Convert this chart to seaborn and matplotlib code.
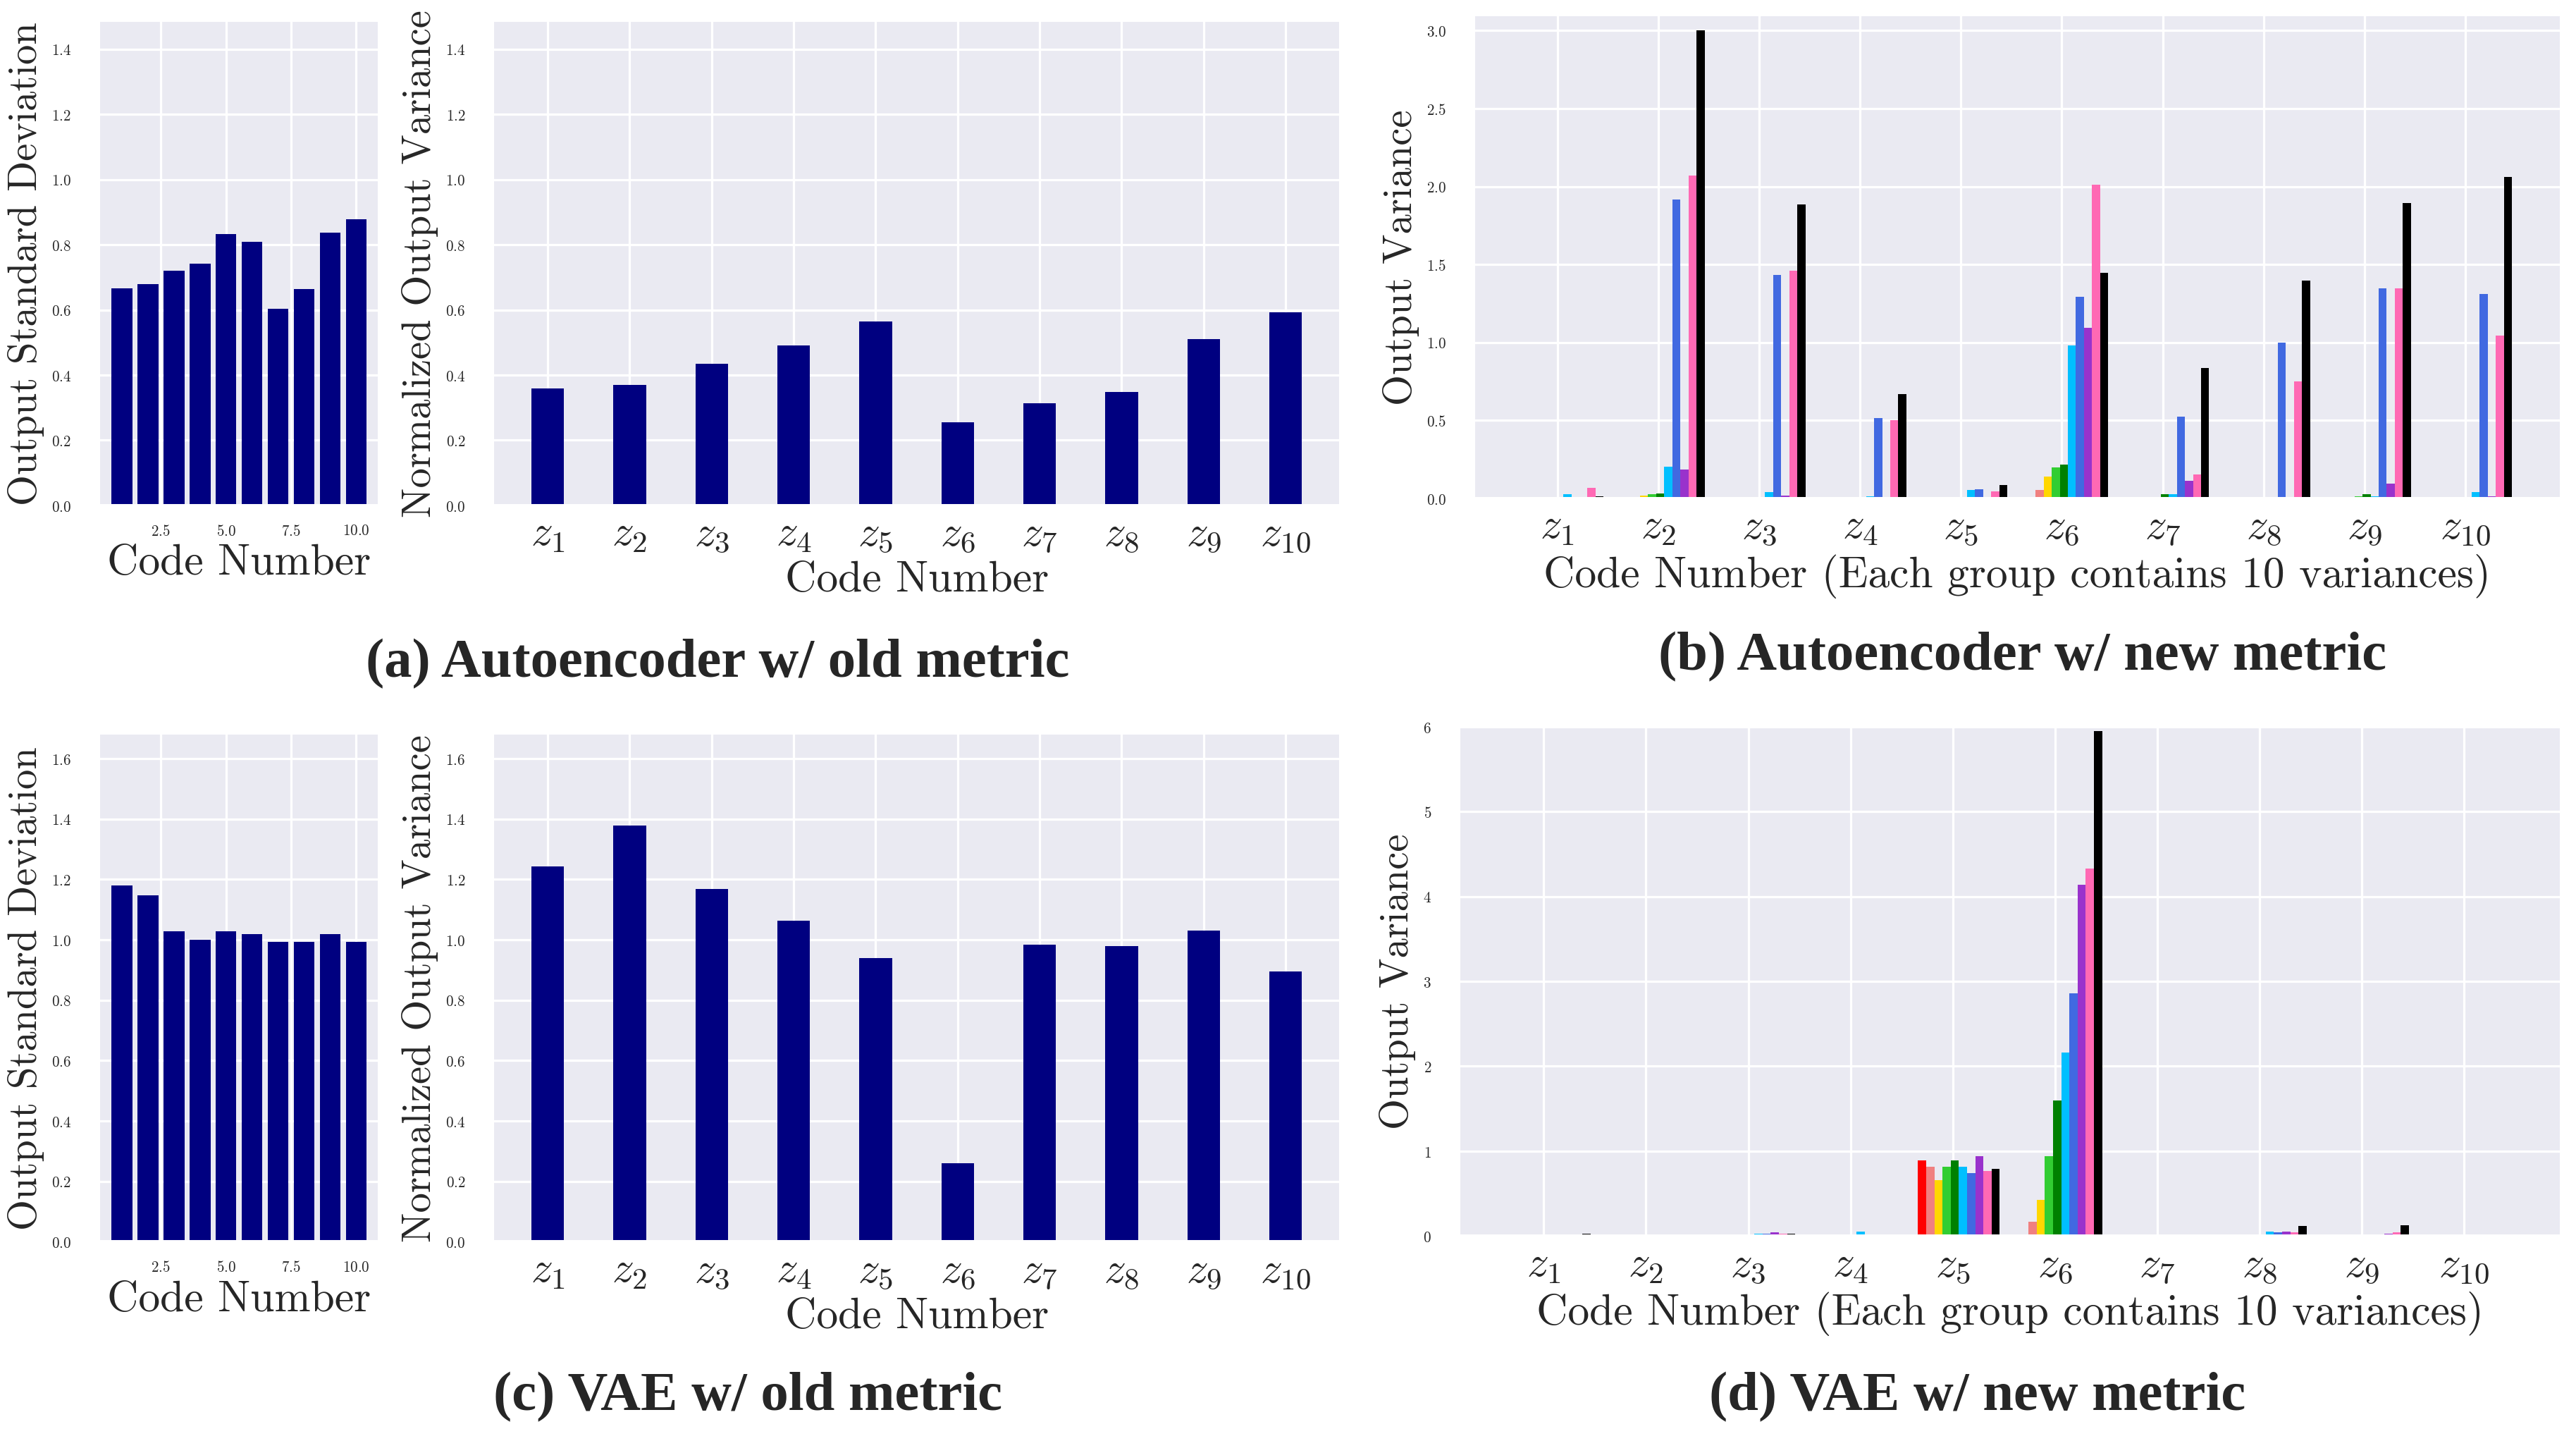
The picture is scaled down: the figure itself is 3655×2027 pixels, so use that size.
import numpy as np
import pandas as pd
import matplotlib
matplotlib.use("Agg")
import matplotlib.pyplot as plt
import seaborn as sns

# values
codes = list(range(1, 11))
code_labels = [r"$z_{%d}$" % i for i in codes]

ae_old_std = [0.666, 0.678, 0.721, 0.741, 0.833, 0.809, 0.604, 0.663, 0.836, 0.879]
ae_old_var = [0.358, 0.369, 0.435, 0.490, 0.564, 0.256, 0.314, 0.349, 0.511, 0.593]
vae_old_std = [1.180, 1.146, 1.029, 1.001, 1.028, 1.018, 0.992, 0.992, 1.018, 0.992]
vae_old_var = [1.243, 1.379, 1.168, 1.063, 0.940, 0.260, 0.984, 0.980, 1.030, 0.895]

# 10 variances per code (one per colour)
run_colors = ["red", "lightcoral", "gold", "limegreen", "green",
              "deepskyblue", "royalblue", "darkorchid", "hotpink", "black"]

ae_new_var = [
    [0, 0, 0, 0, 0, 0.025, 0.010, 0.003, 0.065, 0.013],
    [0, 0.002, 0.017, 0.025, 0.030, 0.202, 1.916, 0.183, 2.069, 3.000],
    [0, 0, 0, 0, 0.003, 0.040, 1.432, 0.017, 1.459, 1.884],
    [0, 0, 0, 0, 0, 0.013, 0.514, 0.003, 0.501, 0.667],
    [0, 0, 0, 0, 0, 0.053, 0.057, 0, 0.044, 0.084],
    [0, 0.053, 0.139, 0.198, 0.215, 0.979, 1.293, 1.093, 2.011, 1.446],
    [0, 0, 0.004, 0.010, 0.025, 0.025, 0.522, 0.112, 0.152, 0.836],
    [0, 0, 0, 0, 0, 0.003, 0.998, 0, 0.749, 1.396],
    [0, 0, 0.003, 0.013, 0.025, 0.013, 1.345, 0.093, 1.349, 1.893],
    [0, 0, 0.002, 0.004, 0.004, 0.040, 1.312, 0.013, 1.042, 2.061],
]

vae_new_var = [
    [0, 0, 0, 0, 0, 0.010, 0, 0.017, 0.017, 0.025],
    [0, 0, 0, 0, 0, 0, 0, 0, 0, 0],
    [0.005, 0.005, 0.005, 0.008, 0.010, 0.025, 0.025, 0.042, 0.025, 0.025],
    [0, 0, 0, 0, 0, 0.050, 0.017, 0.005, 0.017, 0.008],
    [0.893, 0.816, 0.659, 0.816, 0.893, 0.816, 0.744, 0.943, 0.765, 0.790],
    [0.005, 0.166, 0.425, 0.943, 1.598, 2.159, 2.856, 4.139, 4.331, 5.950],
    [0, 0, 0, 0, 0.008, 0.017, 0.010, 0.010, 0.017, 0.017],
    [0, 0.008, 0.008, 0, 0.008, 0.050, 0.042, 0.050, 0.042, 0.120],
    [0, 0, 0, 0, 0, 0.010, 0.017, 0.025, 0.042, 0.127],
    [0, 0, 0, 0, 0, 0.017, 0, 0.005, 0, 0.004],
]

sns.set_theme(style="darkgrid")
plt.rcParams["font.family"] = "serif"
plt.rcParams["font.serif"] = ["cmr10", "DejaVu Serif"]
plt.rcParams["mathtext.fontset"] = "cm"
plt.rcParams["axes.unicode_minus"] = False
plt.rcParams["axes.formatter.use_mathtext"] = True

XLABEL = 19
YLABEL = 17.5
TICK = 6.5
ZTICK = 19

fig = plt.figure(figsize=(15.68, 8.70), dpi=233.1)


def std_panel(rect, vals, ymax, yticks):
    ax = fig.add_axes(rect)
    sns.barplot(x=codes, y=vals, native_scale=True, width=0.8, color="navy",
                saturation=1, errorbar=None, linewidth=0, ax=ax)
    ax.set_xlim(0.11, 10.89)
    ax.set_xticks([2.5, 5.0, 7.5, 10.0])
    ax.set_ylim(0, ymax)
    ax.set_yticks(yticks)
    ax.tick_params(axis="both", labelsize=TICK)
    ax.tick_params(axis="x", pad=2)
    ax.tick_params(axis="y", pad=6)
    ax.set_xlabel("Code Number", fontsize=XLABEL, labelpad=2.5)
    ax.set_ylabel("Output Standard Deviation", fontsize=YLABEL, labelpad=3)
    return ax


def var_panel(rect, vals, ymax, yticks):
    ax = fig.add_axes(rect)
    sns.barplot(x=code_labels, y=vals, width=0.4, color="navy",
                saturation=1, errorbar=None, linewidth=0, ax=ax)
    ax.set_xticks(range(10), code_labels, fontsize=ZTICK)
    ax.set_xlim(-0.67, 9.67)
    ax.xaxis.grid(True)
    ax.set_ylim(0, ymax)
    ax.set_yticks(yticks)
    ax.tick_params(axis="x", pad=-2)
    ax.tick_params(axis="y", labelsize=TICK, pad=6)
    ax.set_xlabel("Code Number", fontsize=XLABEL, labelpad=3)
    ax.set_ylabel("Normalized Output Variance", fontsize=YLABEL, labelpad=3)
    return ax


def group_panel(rect, table, ymax, yticks):
    ax = fig.add_axes(rect)
    df = pd.DataFrame(table, columns=run_colors)
    df["code"] = code_labels
    df = df.melt(id_vars="code", var_name="run", value_name="var")
    sns.barplot(data=df, x="code", y="var", hue="run", hue_order=run_colors,
                palette=dict(zip(run_colors, run_colors)), width=0.8, dodge=True,
                saturation=1, errorbar=None, linewidth=0, legend=False, ax=ax)
    ticks = np.arange(10) - 0.06
    ax.set_xticks(ticks, code_labels, fontsize=ZTICK)
    ax.set_xlim(ticks[0] - 0.83, ticks[-1] + 0.95)
    ax.xaxis.grid(True)
    ax.set_ylim(0, ymax)
    ax.set_yticks(yticks)
    ax.tick_params(axis="x", pad=-2)
    ax.tick_params(axis="y", labelsize=TICK, pad=6)
    ax.set_xlabel("Code Number (Each group contains 10 variances)",
                  fontsize=XLABEL, labelpad=3)
    ax.set_ylabel("Output Variance", fontsize=YLABEL, labelpad=3)
    return ax


std_panel([0.0383, 0.646, 0.109, 0.339], ae_old_std, 1.487, np.arange(0, 1.41, 0.2))
var_panel([0.1913, 0.646, 0.3291, 0.339], ae_old_var, 1.487, np.arange(0, 1.41, 0.2))
group_panel([0.572, 0.651, 0.4223, 0.338], ae_new_var, 3.1, np.arange(0, 3.01, 0.5))

std_panel([0.0383, 0.131, 0.109, 0.3557], vae_old_std, 1.684, np.arange(0, 1.61, 0.2))
var_panel([0.1913, 0.131, 0.3291, 0.3557], vae_old_var, 1.684, np.arange(0, 1.61, 0.2))
group_panel([0.5663, 0.135, 0.428, 0.3573], vae_new_var, 6.02, np.arange(0, 7, 1))

cap = dict(fontfamily="Liberation Serif", fontweight="bold", fontsize=24.3,
           ha="center", va="baseline")
fig.text(0.2787, 0.5264, "(a) Autoencoder w/ old metric", **cap)
fig.text(0.7851, 0.5315, "(b) Autoencoder w/ new metric", **cap)
fig.text(0.2902, 0.0138, "(c) VAE w/ old metric", **cap)
fig.text(0.7676, 0.0138, "(d) VAE w/ new metric", **cap)

fig.savefig("out.png", dpi=233.1)
